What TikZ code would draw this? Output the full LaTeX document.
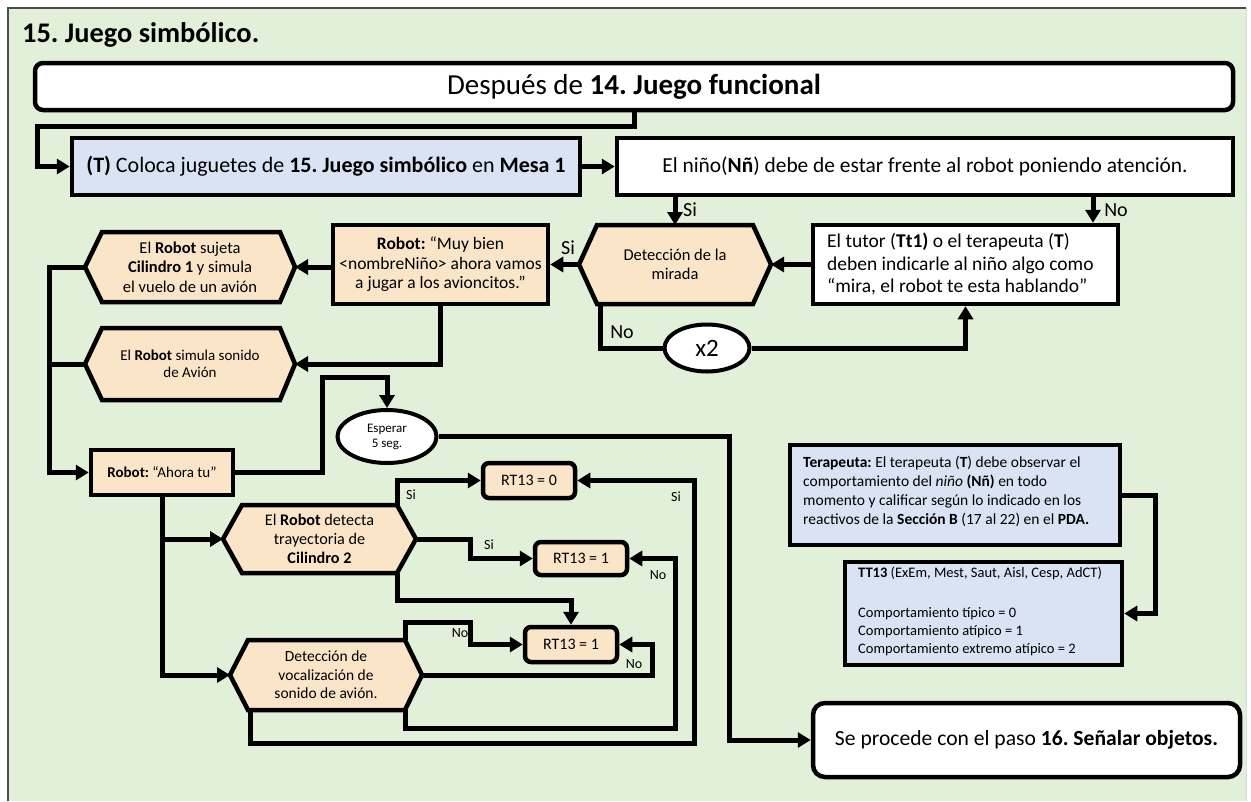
\documentclass[tikz,border=0pt]{standalone}
\usepackage{fontspec}
\setmainfont{Carlito}
\usetikzlibrary{arrows.meta,shapes.geometric}
\definecolor{bggreen}{HTML}{E2EFD9}
\definecolor{boxblue}{HTML}{DAE3F3}
\definecolor{peach}{HTML}{FBE5C8}
\newcommand\fz[2]{\fontsize{#1}{#2}\selectfont}
\newcommand\hexnode[7]{%
  \path[hexbox] (#2,{(#6+#7)/2}) -- (#3,#6) -- (#4,#6) -- (#5,{(#6+#7)/2}) -- (#4,#7) -- (#3,#7) -- cycle;
  \coordinate (#1-w) at (#2,{(#6+#7)/2});
  \coordinate (#1-e) at (#5,{(#6+#7)/2});
  \coordinate (#1-nw) at (#3,#6);
  \coordinate (#1-ne) at (#4,#6);
  \coordinate (#1-sw) at (#3,#7);
  \coordinate (#1-se) at (#4,#7);
  \coordinate (#1-c) at ({(#2+#5)/2},{(#6+#7)/2});
}
\tikzset{
  line/.style={draw=black, line width=5pt},
  arr/.style={line, -{Triangle[length=13pt,width=15pt]}},
  box/.style={draw=black, line width=4.5pt, inner sep=0pt},
  rbox/.style={box, rounded corners=8pt},
  hexbox/.style={draw=black, fill=peach, line width=4.5pt, line join=miter},
  lbl/.style={inner sep=0pt},
}
\begin{document}
\frenchspacing
\begin{tikzpicture}[x=1pt,y=-1pt]
\useasboundingbox (0,0) rectangle (1251,801);
\fill[white] (0,0) rectangle (1251,801);
\fill[bggreen] (8,8) rectangle (1246,801);
\draw[black!70, line width=1.2pt] (8,801) -- (8,8) -- (1246,8);
\draw[white!85!black, line width=1pt] (1246,8) -- (1246,801);

% title
\node[lbl, anchor=base west, font=\fz{28.4}{32}\bfseries] (title) at (22,42) {15. Juego simbólico.};

% top box
\node[rbox, fill=white, minimum width=1198pt, minimum height=47pt, font=\fz{29}{32}] (top) at (634,86.5) {Después de \textbf{14. Juego funcional}};

% T box and Nn box
\node[box, fill=boxblue, minimum width=508pt, minimum height=57pt, font=\fz{22}{26}] (tbox) at (326,166.5) {\textbf{(T)} Coloca juguetes de \textbf{15. Juego simbólico} en \textbf{Mesa 1}};
\node[box, fill=white, minimum width=616pt, minimum height=57pt, font=\fz{21.4}{26}] (nn) at (925,166.5) {El niño(\textbf{Nñ}) debe de estar frente al robot poniendo atención.};

\draw[arr] (top.south) -- ++(0,14) -| ([xshift=-32pt]tbox.west) -- (tbox.west);
\draw[arr] (tbox.east) -- (nn.west);

% deteccion de la mirada
\hexnode{hd}{579}{597}{753}{771}{225}{304}
\node[lbl, align=center, font=\fz{16.5}{19.5}] (hdt) at (hd-c) {Detección de la\\mirada};

% tutor box
\node[box, fill=white, minimum width=305pt, minimum height=79pt] (tt) at (965.5,264.5) {};
\node[lbl, anchor=west, align=left, font=\fz{19.5}{22.5}] (ttx) at (827,264.5) {El tutor (\textbf{Tt1)} o el terapeuta (\textbf{T})\\deben indicarle al niño algo como\\“mira, el robot te esta hablando”};

\draw[arr] (nn.south -| hd-c) -- (hd-c |- hd-nw);
\node[lbl, font=\fz{20}{24}] (si1) at (690,210) {Si};
\draw[arr] ([xshift=127.5pt]tt.north |- nn.south) -- ([xshift=127.5pt]tt.north);
\node[lbl, font=\fz{20}{24}] (no1) at (1116,210) {No};
\draw[arr] (tt.west) -- (hd-e);

% robot muy bien
\node[box, fill=peach, minimum width=215pt, minimum height=79pt, align=center, font=\fz{17.5}{19.5}] (rb) at (440.5,264.5) {\textbf{Robot:} “Muy bien\\<nombreNiño> ahora vamos\\a jugar a los avioncitos.”};
\draw[arr] (hd-w) -- (hd-w -| rb.east);
\node[lbl, font=\fz{20}{24}] (si2) at (568,248) {Si};

% x2 loop
\node[ellipse, draw=black, line width=4pt, fill=white, minimum width=85pt, minimum height=47pt, inner sep=0pt, font=\fz{25}{28}] (x2) at (707,348) {x2};
\draw[line] ([xshift=3pt]hd-sw) |- (x2.west);
\draw[arr] (x2.east) -| (tt.south);
\node[lbl, font=\fz{20}{24}] (no2) at (622,332) {No};

% left hexagons
\hexnode{hs}{85}{102}{280}{295}{232}{302}
\node[lbl, align=center, font=\fz{16.5}{19.5}] (hst) at (hs-c) {El \textbf{Robot} sujeta\\\textbf{Cilindro 1} y simula\\el vuelo de un avión};
\draw[arr] (rb.west |- hs-e) -- (hs-e);

\hexnode{hv}{85}{102}{280}{295}{328}{400}
\node[lbl, align=center, font=\fz{15}{17.5}] (hvt) at (hv-c) {El \textbf{Robot} simula sonido\\de Avión};
\draw[arr] (rb.south) |- (hv-e);

% Ahora tu
\node[box, fill=peach, minimum width=142pt, minimum height=45pt, font=\fz{15}{18}] (at) at (162,472.5) {\textbf{Robot:} “Ahora tu”};
\coordinate (tr) at ([xshift=-39pt]at.west);
\draw[arr] (hs-w) -| (tr) -- (at.west);
\draw[line] (hv-w) -- (hv-w -| tr);

% esperar
\node[ellipse, draw=black, line width=4pt, fill=white, minimum width=99pt, minimum height=53pt, inner sep=0pt, align=center, font=\fz{13}{15}] (esp) at (387,436.5) {Esperar\\5 seg.};
\coordinate (k1) at (322,377);
\draw[arr] (at.east) -| (k1) -| (esp.north);

% se procede
\node[box, rounded corners=12pt, fill=white, minimum width=427pt, minimum height=74pt, font=\fz{21.6}{27}] (se) at (1026.5,740) {Se procede con el paso \textbf{16. Señalar objetos.}};
\draw[arr] (esp.east) -| ([xshift=-81pt]se.west) -- (se.west);

% detection hexagons
\hexnode{hc}{223}{242}{397}{416}{505}{573}
\node[lbl, align=center, font=\fz{16.2}{19}] (hct) at (hc-c) {El \textbf{Robot} detecta\\trayectoria de\\\textbf{Cilindro 2}};
\hexnode{hz}{230}{248}{405}{422}{640}{710}
\node[lbl, align=center, font=\fz{15.5}{18.5}] (hzt) at (hz-c) {Detección de\\vocalización de\\sonido de avión.};

\draw[arr] (at.south) |- (hz-w);
\draw[arr] (at.south |- hc-w) -- (hc-w);

% RT boxes
\node[box, rounded corners=6pt, fill=peach, minimum width=92pt, minimum height=35pt, font=\fz{16}{19}] (r0) at (529,480.5) {RT13 = 0};
\node[box, rounded corners=6pt, fill=peach, minimum width=92pt, minimum height=33pt, font=\fz{16}{19}] (r1) at (581,558.5) {RT13 = 1};
\node[box, rounded corners=6pt, fill=peach, minimum width=92pt, minimum height=35pt, font=\fz{16}{19}] (r2) at (571,644.5) {RT13 = 1};

\draw[arr] (hc-ne) |- (r0.west);
\node[lbl, font=\fz{14}{16}] (si3) at (411,495) {Si};
\draw[arr] (hc-e) -| ([xshift=-62pt]r1.west) -- (r1.west);
\node[lbl, font=\fz{14}{16}] (si4) at (489,545) {Si};
\draw[arr] (hc-se) -- ++(0,27) -| (r2.north);
\draw[arr] (hz-ne) -- ++(0,-18) -| ([xshift=-52pt]r2.west) -- (r2.west);
\node[lbl, font=\fz{14}{16}] (no3) at (460,633) {No};
\draw[arr] (hz-e) -| ([xshift=33pt]r2.east) -- (r2.east);
\node[lbl, font=\fz{14}{16}] (no4) at (634,664) {No};
\draw[arr] (hz-se) -- ++(0,18) -| ([xshift=46pt]r1.east) -- (r1.east);
\node[lbl, font=\fz{14}{16}] (no5) at (658,575) {No};
\draw[arr] ([xshift=2pt]hz-sw) -- ++(0,33) -| ([xshift=117pt]r0.east) -- (r0.east);
\node[lbl, font=\fz{14}{16}] (si5) at (676,497) {Si};

% terapeuta boxes
\node[box, fill=boxblue, minimum width=330pt, minimum height=100pt] (tp) at (955,495) {};
\node[lbl, anchor=west, align=left, font=\fz{15.5}{19}] (tpx) at (803,491) {\textbf{Terapeuta:} El terapeuta (\textbf{T}) debe observar el\\comportamiento del \textit{niño} \textbf{(Nñ)} en todo\\momento y calificar según lo indicado en los\\reactivos de la \textbf{Sección B} (17 al 22) en el \textbf{PDA.}};
\node[box, fill=boxblue, minimum width=277pt, minimum height=103pt] (t13) at (983.5,613.5) {};
\node[lbl, anchor=west, align=left, font=\fz{14.5}{18}] (t13x) at (858,611) {\textbf{TT13} (ExEm, Mest, Saut, Aisl, Cesp, AdCT)\\[4pt]\\Comportamiento típico = 0\\Comportamiento atípico = 1\\Comportamiento extremo atípico = 2};
\draw[arr] (tp.east) -- ++(33,0) |- (t13.east);
\end{tikzpicture}
\end{document}
